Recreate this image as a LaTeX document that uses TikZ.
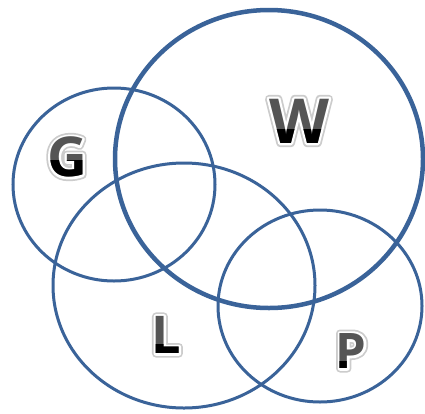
\documentclass[tikz,border=0pt]{standalone}
\usepackage{fontspec}
\setmainfont{Open Sans}
\definecolor{ringblue}{HTML}{3A6399}
\definecolor{letgray}{HTML}{555555}
\tikzset{
  ring/.style={draw=ringblue,line width=3pt},
  bigring/.style={draw=ringblue,line width=4.5pt},
  lettersty/.style={inner sep=0pt,outer sep=0pt,anchor=center}
}
\newcommand\strokedtext[3]{\special{pdf:literal direct q 2 Tr 1 j 1 J #1 w #2 RG #2 rg}#3\special{pdf:literal direct Q}}
\newcommand\vennletter[6]{%
  \node[lettersty,font=\fontsize{#4}{#4}\selectfont\bfseries] (#1s) at (#2,#3)
    {\strokedtext{8}{0.8 0.8 0.8}{#6}};
  \node[lettersty,font=\fontsize{#4}{#4}\selectfont\bfseries] (#1w) at (#2,#3)
    {\strokedtext{4.5}{1 1 1}{#6}};
  \node[lettersty,font=\fontsize{#4}{#4}\selectfont\bfseries,text=letgray] (#1g) at (#2,#3) {#6};
  \begin{scope}
    \clip (#2-60,#5) rectangle (#2+60,#3+60);
    \node[lettersty,font=\fontsize{#4}{#4}\selectfont\bfseries,text=black] (#1) at (#2,#3) {#6};
  \end{scope}}
\begin{document}
\begin{tikzpicture}[x=1pt,y=-1pt]
\useasboundingbox[fill=white] (0,0) rectangle (425,413);
\draw[bigring] (269,159) ellipse [x radius=154, y radius=149];
\draw[ring] (114,184.5) ellipse [x radius=101, y radius=96.5];
\draw[ring] (184,285.5) ellipse [x radius=131, y radius=122.5];
\draw[ring] (320,306) ellipse [x radius=102, y radius=96];
\vennletter{G}{67}{157}{55}{160}{G}
\vennletter{W}{299}{121}{62}{129}{W}
\vennletter{L}{166}{335}{52}{344}{L}
\vennletter{P}{351}{351}{49}{361}{P}
\end{tikzpicture}
\end{document}
